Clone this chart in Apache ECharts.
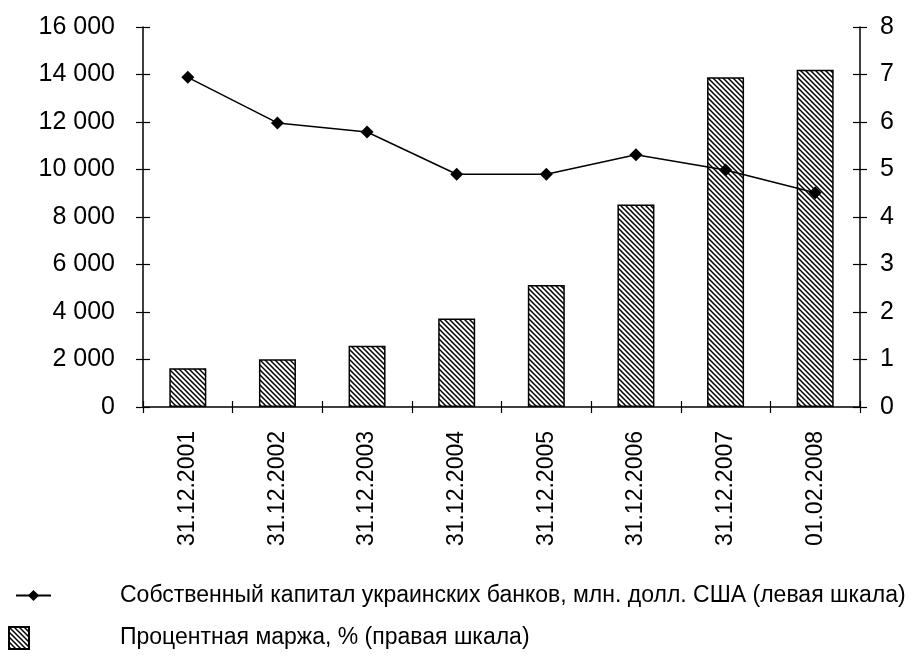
<!DOCTYPE html>
<html lang="ru">
<head>
  <meta charset="UTF-8">
  <title>Капитал и маржа</title>
  <script src="https://cdn.jsdelivr.net/npm/echarts@6/dist/echarts.min.js"></script>
  <style>
    html, body { margin: 0; padding: 0; background: #fff; }
    #main { width: 917px; height: 659px; }
  </style>
</head>
<body>
<div id="main"></div>
<script type="text/javascript">
  const dates = ['31.12.2001', '31.12.2002', '31.12.2003', '31.12.2004', '31.12.2005', '31.12.2006', '31.12.2007', '01.02.2008']
  // bars
  const barValues = [1630, 2010, 2580, 3730, 5140, 8530, 13880, 14200]
  // line
  const lineValues = [6.94, 5.98, 5.79, 4.9, 4.9, 5.31, 4.99, 4.51]
  const lineName = 'Собственный капитал украинских банков, млн. долл. США (левая шкала)'
  const barName = 'Процентная маржа, % (правая шкала)'

  const font = "'Liberation Sans', Arial, sans-serif"

  // diagonal hatching tile
  const tile = document.createElement('canvas')
  tile.width = 5
  tile.height = 5
  const ctx = tile.getContext('2d')
  ctx.fillStyle = '#fff'
  ctx.fillRect(0, 0, 5, 5)
  ctx.strokeStyle = '#000'
  ctx.lineWidth = 1.5
  ctx.beginPath()
  ctx.moveTo(-1, -1); ctx.lineTo(6, 6)
  ctx.moveTo(-1, 4); ctx.lineTo(1, 6)
  ctx.moveTo(4, -1); ctx.lineTo(6, 1)
  ctx.stroke()
  const hatch = { image: tile, repeat: 'repeat' }

  const fmt = (v) => String(v).replace(/\B(?=(\d{3})+(?!\d))/g, ' ')

  const chart = echarts.init(document.getElementById('main'))

  const option = {
    backgroundColor: '#fff',
    animation: false,
    grid: { left: 143, right: 57, top: 27, bottom: 252 },
    legend: [{
      orient: 'vertical',
      left: 15,
      top: 584,
      padding: 0,
      itemWidth: 35,
      itemHeight: 14,
      data: [lineName],
      textStyle: { fontFamily: font, fontSize: 23, color: '#000', padding: [0, 0, 0, 64] }
    }, {
      orient: 'vertical',
      left: 8,
      top: 626,
      padding: 0,
      itemWidth: 20,
      itemHeight: 22,
      data: [{ name: barName, icon: 'rect' }],
      textStyle: { fontFamily: font, fontSize: 23, color: '#000', padding: [0, 0, 0, 86] }
    }],
    xAxis: [{
      type: 'category',
      data: dates,
      axisLine: { lineStyle: { color: '#000', width: 1.5 } },
      axisTick: { show: true, length: 6, lineStyle: { color: '#000', width: 1.2 } },
      axisLabel: { rotate: 90, margin: 24, fontFamily: font, fontSize: 23, color: '#000' }
    }, {
      type: 'category',
      data: dates,
      position: 'bottom',
      axisLine: { show: false },
      axisTick: { show: true, inside: true, length: 6, lineStyle: { color: '#000', width: 1.2 } },
      axisLabel: { show: false }
    }],
    yAxis: [{
      type: 'value',
      min: 0,
      max: 16000,
      interval: 2000,
      position: 'left',
      splitLine: { show: false },
      axisLine: { show: true, lineStyle: { color: '#000', width: 1.5 } },
      axisTick: { show: true, length: 7, lineStyle: { color: '#000', width: 1.2 } },
      axisLabel: { formatter: fmt, margin: 28, fontFamily: font, fontSize: 25, color: '#000' }
    }, {
      type: 'value',
      min: 0,
      max: 8,
      interval: 1,
      position: 'right',
      splitLine: { show: false },
      axisLine: { show: true, lineStyle: { color: '#000', width: 1.5 } },
      axisTick: { show: true, length: 7, lineStyle: { color: '#000', width: 1.2 } },
      axisLabel: { margin: 20, fontFamily: font, fontSize: 25, color: '#000' }
    }, {
      type: 'value',
      min: 0,
      max: 8,
      interval: 1,
      position: 'left',
      splitLine: { show: false },
      axisLine: { show: false },
      axisTick: { show: true, inside: true, length: 7, lineStyle: { color: '#000', width: 1.2 } },
      axisLabel: { show: false }
    }, {
      type: 'value',
      min: 0,
      max: 8,
      interval: 1,
      position: 'right',
      splitLine: { show: false },
      axisLine: { show: false },
      axisTick: { show: true, inside: true, length: 7, lineStyle: { color: '#000', width: 1.2 } },
      axisLabel: { show: false }
    }],
    series: [{
      name: barName,
      type: 'bar',
      yAxisIndex: 0,
      barWidth: 37,
      data: barValues,
      itemStyle: { color: hatch, borderColor: '#000', borderWidth: 1.5 }
    }, {
      name: lineName,
      type: 'line',
      yAxisIndex: 1,
      data: lineValues,
      symbol: 'diamond',
      symbolSize: 13,
      lineStyle: { color: '#000', width: 1.5 },
      itemStyle: { color: '#000' }
    }]
  }

  chart.setOption(option)
</script>
</body>
</html>
